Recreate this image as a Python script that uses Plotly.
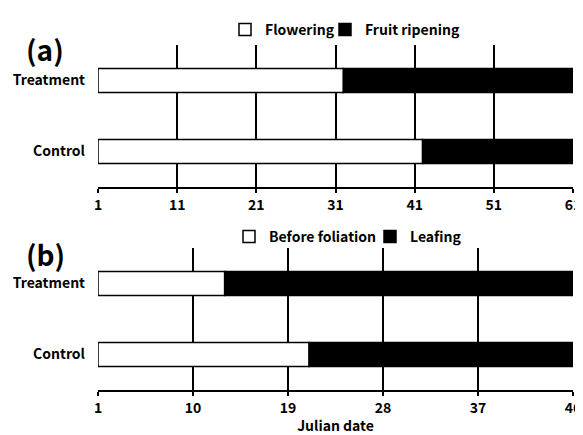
import plotly.graph_objects as go
from plotly.subplots import make_subplots

# data
groups = ['Treatment', 'Control']

a_start = [1, 1]
a_flowering_end = [32, 42]
a_ripening_end = [61, 61]
a_ticks = [1, 11, 21, 31, 41, 51, 61]

b_start = [1, 1]
b_before_end = [13, 21]
b_leafing_end = [46, 46]
b_ticks = [1, 10, 19, 28, 37, 46]

FONT = 'Noto Sans CJK KR'
# the page puts an 8px margin round the figure
W, H = 575, 427


def px(x):
    return (x - 8) / W


def py(y):
    return 1 - (y - 8) / H


fig = make_subplots(rows=2, cols=1, vertical_spacing=0.1)


def add_phase(starts, ends, name, color, row, legend):
    fig.add_trace(go.Bar(
        y=groups,
        x=[e - s for s, e in zip(starts, ends)],
        base=starts,
        orientation='h',
        name=name,
        width=0.34,
        marker=dict(color=color, line=dict(color='black', width=1.5)),
        legend=legend,
    ), row=row, col=1)


# (a) flowering / fruit ripening
add_phase(a_start, a_flowering_end, 'Flowering', 'white', 1, 'legend')
add_phase(a_flowering_end, a_ripening_end, 'Fruit ripening', 'black', 1, 'legend2')

# (b) before foliation / leafing
add_phase(b_start, b_before_end, 'Before foliation', 'white', 2, 'legend3')
add_phase(b_before_end, b_leafing_end, 'Leafing', 'black', 2, 'legend4')

legend_style = dict(
    orientation='h', xanchor='left', yanchor='middle',
    font=dict(family=FONT, size=14, color='black', weight='bold'),
    bgcolor='rgba(0,0,0,0)', itemclick=False,
)

fig.update_layout(
    width=W, height=H,
    margin=dict(l=0, r=0, t=0, b=0),
    plot_bgcolor='white', paper_bgcolor='white',
    barmode='overlay',
    showlegend=True,
    legend=dict(x=px(225), y=py(30), **legend_style),
    legend2=dict(x=px(325), y=py(30), **legend_style),
    legend3=dict(x=px(229), y=py(237), **legend_style),
    legend4=dict(x=px(370), y=py(237), **legend_style),
    font=dict(family=FONT, size=14, color='black'),
)

x_common = dict(
    showgrid=True, gridcolor='black', gridwidth=2,
    showline=True, linecolor='black', linewidth=2,
    ticks='outside', ticklen=4, tickwidth=2, tickcolor='black',
    tickfont=dict(family=FONT, size=14, color='black', weight='bold'),
    ticklabeloverflow='allow',
    zeroline=False, automargin=False,
    domain=[px(98), px(573)],
)
fig.update_xaxes(range=[1, 61], tickvals=a_ticks, row=1, col=1, **x_common)
fig.update_xaxes(range=[1, 46], tickvals=b_ticks, row=2, col=1,
                 title=dict(text='Julian date', standoff=9,
                            font=dict(family=FONT, size=14, color='black', weight='bold')),
                 **x_common)

y_common = dict(
    showgrid=False, showline=False, ticks='', zeroline=False,
    range=[-0.5, 1.5], automargin=False,
    categoryorder='array', categoryarray=groups[::-1],
    tickfont=dict(family=FONT, size=14, color='black', weight='bold'),
    ticklabelstandoff=12,
)
fig.update_yaxes(domain=[py(187), py(45)], row=1, col=1, **y_common)
fig.update_yaxes(domain=[py(390), py(248)], row=2, col=1, **y_common)

# panel letters
for label, ypos in [('(a)', py(49)), ('(b)', py(254))]:
    fig.add_annotation(text=label, xref='paper', yref='paper', x=px(45), y=ypos,
                       showarrow=False, xanchor='center', yanchor='middle',
                       font=dict(family=FONT, size=28, color='black', weight='bold'))

# rule across the top
fig.add_shape(type='line', xref='paper', yref='paper', x0=0, x1=1,
              y0=py(6), y1=py(6), line=dict(color='#333333', width=2))

fig.write_html('out.html')
